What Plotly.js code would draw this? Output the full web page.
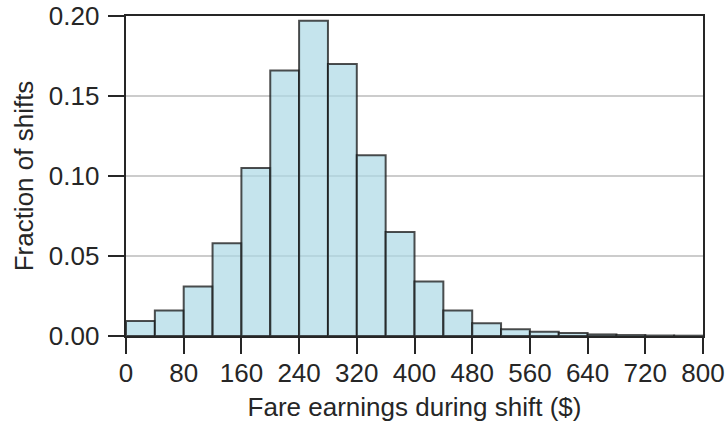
<!DOCTYPE html>
<html>
<head>
<meta charset="utf-8">
<script src="https://cdn.plot.ly/plotly-3.0.1.min.js"></script>
<style>html,body{margin:0;padding:0;background:#fff;}#chart{width:727px;height:428px;}</style>
</head>
<body>
<div id="chart"></div>
<script>
const binStarts = [0,40,80,120,160,200,240,280,320,360,400,440,480,520,560,600,640,680,720,760];
const binWidth = 40;
const fractions = [0.0094,0.016,0.031,0.058,0.105,0.166,0.197,0.170,0.113,0.065,0.034,0.016,0.008,0.0042,0.0027,0.0018,0.001,0.0006,0.0003,0.0002];
const xTicks = [0,80,160,240,320,400,480,560,640,720,800];
const yTicks = [0,0.05,0.10,0.15,0.20];

const trace = {
  type: 'bar',
  x: binStarts,
  y: fractions,
  width: binStarts.map(() => binWidth),
  offset: 0,
  marker: {
    color: 'rgba(173,216,230,0.7)',
    line: {color: 'rgba(20,20,20,0.75)', width: 2}
  },
  hoverinfo: 'skip'
};

const font = {family: 'Liberation Sans, Arial, sans-serif', size: 26, color: '#262626'};

const layout = {
  width: 727, height: 428,
  margin: {l: 126, r: 24, t: 16, b: 92},
  paper_bgcolor: '#fff', plot_bgcolor: '#fff',
  font: font,
  showlegend: false,
  bargap: 0,
  xaxis: {
    range: [0, 800],
    tickvals: xTicks,
    ticktext: xTicks.map(String),
    ticks: 'outside', ticklen: 16, tickwidth: 2, tickcolor: '#262626',
    showline: true, linecolor: '#262626', linewidth: 2.4, mirror: true,
    showgrid: false, zeroline: false,
    tickfont: font,
    ticklabelstandoff: -4,
    title: {text: 'Fare earnings during shift ($)', font: font, standoff: 11}
  },
  yaxis: {
    range: [0, 0.20],
    tickvals: yTicks,
    ticktext: yTicks.map(v => v.toFixed(2)),
    ticks: 'outside', ticklen: 16, tickwidth: 2, tickcolor: '#262626',
    showline: true, linecolor: '#262626', linewidth: 2.4, mirror: true,
    showgrid: true, gridcolor: '#cccccc', gridwidth: 1.5, zeroline: false,
    tickfont: font,
    ticklabelstandoff: 3,
    title: {text: 'Fraction of shifts', font: font, standoff: 8}
  }
};

Plotly.newPlot('chart', [trace], layout, {displayModeBar: false, staticPlot: true});
</script>
</body>
</html>
